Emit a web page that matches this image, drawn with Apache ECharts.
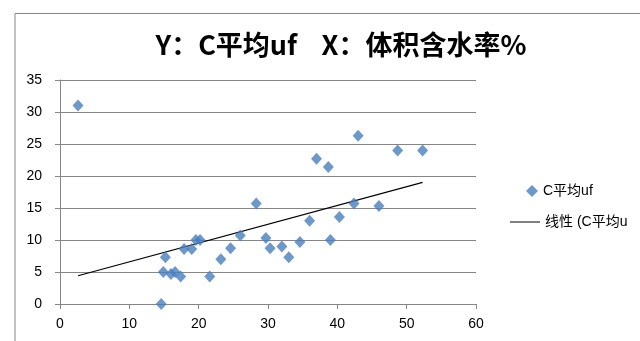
<!DOCTYPE html>
<html>
<head>
<meta charset="utf-8">
<script src="https://cdn.jsdelivr.net/npm/echarts@6/dist/echarts.min.js"></script>
<style>
  html, body { margin: 0; padding: 0; background: #fff; }
  #chart { width: 640px; height: 341px; }
</style>
</head>
<body>
<div id="chart"></div>
<script>
// 体积含水率 % (x) vs C平均uf (y)
const waterPct = [2.6, 14.6, 14.9, 15.2, 16.0, 16.6, 17.4, 17.9, 19.0, 19.6, 20.2, 21.6, 23.2, 24.6, 26.0,
  28.3, 29.7, 30.3, 32.0, 33.0, 34.6, 36.0, 37.0, 38.7, 39.0, 40.3, 42.4, 43.0, 46.0, 48.7, 52.3]
const capAvg = [31.0, 0.0, 5.0, 7.3, 4.7, 5.0, 4.3, 8.6, 8.6, 10.0, 10.0, 4.3, 7.0, 8.7, 10.7,
  15.7, 10.3, 8.7, 9.0, 7.3, 9.7, 13.0, 22.7, 21.4, 10.0, 13.6, 15.7, 26.3, 15.3, 24.0, 24.0]
const xTicks = [0, 60, 10]
const yTicks = [0, 35, 5]

const font = 'Liberation Sans, Noto Sans CJK SC, sans-serif'

// 线性趋势线（最小二乘）
function linearFit(xs, ys) {
  const n = xs.length
  let sx = 0, sy = 0, sxx = 0, sxy = 0
  for (let i = 0; i < n; i++) {
    sx += xs[i]; sy += ys[i]; sxx += xs[i] * xs[i]; sxy += xs[i] * ys[i]
  }
  const k = (n * sxy - sx * sy) / (n * sxx - sx * sx)
  const b = (sy - k * sx) / n
  return { k, b }
}
const fit = linearFit(waterPct, capAvg)
const xMin = Math.min(...waterPct)
const xMax = Math.max(...waterPct)
const trend = [[xMin, fit.k * xMin + fit.b], [xMax, fit.k * xMax + fit.b]]

const chart = echarts.init(document.getElementById('chart'))
chart.setOption({
  animation: false,
  textStyle: { fontFamily: font },
  title: {
    text: 'Y：C平均uf    X：体积含水率%',
    left: 336,
    textAlign: 'center',
    top: 26,
    textStyle: { fontSize: 27, fontWeight: 'bold', color: '#000', fontFamily: 'Noto Sans CJK SC, sans-serif' }
  },
  graphic: [{
    type: 'polyline',
    shape: { points: [[15, 345], [15, 13.5], [645, 13.5]] },
    style: { stroke: '#868686', lineWidth: 1, fill: null },
    silent: true
  }],
  legend: [{
    data: ['C平均uf'],
    left: 521,
    top: 179,
    orient: 'vertical',
    itemWidth: 12,
    itemHeight: 12,
    itemGap: 8,
    textStyle: { fontSize: 14, color: '#000', fontFamily: font }
  }, {
    data: [{ name: '线性 (C平均uf)', icon: 'path://M0,0 L30,0 L30,1 L0,1 Z' }],
    left: 505,
    top: 210,
    itemWidth: 30,
    itemHeight: 1.2,
    itemGap: 3,
    textStyle: {
      fontSize: 14, color: '#000', fontFamily: font,
      width: 86, overflow: 'truncate', ellipsis: ''
    }
  }],
  grid: { left: 60, right: 164, top: 80, bottom: 37 },
  xAxis: {
    type: 'value',
    min: xTicks[0],
    max: xTicks[1],
    interval: xTicks[2],
    axisLine: { show: true, lineStyle: { color: '#868686' } },
    axisTick: { show: true, length: 5, lineStyle: { color: '#868686' } },
    axisLabel: { color: '#000', fontSize: 14, margin: 13 },
    splitLine: { show: false }
  },
  yAxis: {
    type: 'value',
    min: yTicks[0],
    max: yTicks[1],
    interval: yTicks[2],
    axisLine: { show: true, lineStyle: { color: '#868686' } },
    axisTick: { show: true, length: 5, lineStyle: { color: '#868686' } },
    axisLabel: { color: '#000', fontSize: 14, margin: 18 },
    splitLine: { show: true, lineStyle: { color: '#868686' } }
  },
  series: [{
    name: 'C平均uf',
    type: 'scatter',
    symbol: 'diamond',
    symbolSize: [11, 12],
    itemStyle: { color: '#4a7ebb' },
    data: waterPct.map((x, i) => [x, capAvg[i]]),
    z: 3
  }, {
    name: '线性 (C平均uf)',
    type: 'line',
    symbol: 'none',
    lineStyle: { color: '#000', width: 1.2 },
    itemStyle: { color: '#000' },
    data: trend,
    z: 2
  }]
})
</script>
</body>
</html>
